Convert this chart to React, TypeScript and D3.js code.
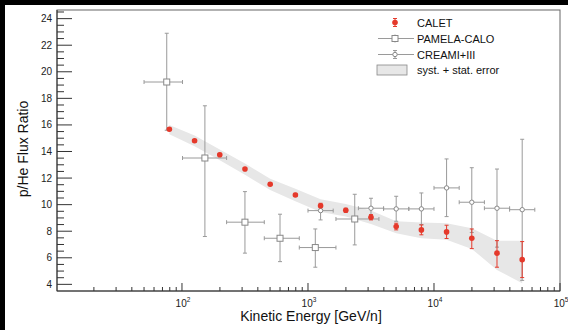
import React, { useEffect, useRef } from 'react';
import * as d3 from 'd3';

// CALET p/He ratio, bins in kinetic energy per nucleon
const caletE = [79.4, 125.9, 199.5, 316.2, 501.2, 794.3, 1258.9, 1995.3, 3162.3, 5011.9, 7943.3, 12589, 19953, 31623, 50119];
const caletRatio = [15.67, 14.81, 13.76, 12.68, 11.54, 10.73, 9.92, 9.58, 9.05, 8.35, 8.1, 7.95, 7.47, 6.35, 5.86];
const caletErrLo = [0.1, 0.1, 0.1, 0.1, 0.1, 0.12, 0.15, 0.15, 0.2, 0.25, 0.37, 0.5, 0.78, 1.06, 1.35];
const caletErrHi = [0.1, 0.1, 0.1, 0.1, 0.1, 0.12, 0.18, 0.15, 0.2, 0.25, 0.37, 0.5, 0.7, 0.94, 1.36];
const bandLo = [15.3, 14.4, 13.35, 12.25, 11.1, 10.25, 9.45, 9.1, 8.55, 7.85, 7.47, 7.35, 6.67, 5.09, 4.09];
const bandHi = [16.0, 15.2, 14.15, 13.1, 11.95, 11.2, 10.4, 10.05, 9.55, 8.75, 8.65, 8.6, 8.23, 7.29, 7.29];

// PAMELA-CALO
const pamelaE = [75.7, 152, 316, 600, 1143, 2350];
const pamelaELo = [50, 101, 226, 450, 853, 1667];
const pamelaEHi = [101, 226, 450, 853, 1667, 3656];
const pamelaRatio = [19.23, 13.51, 8.68, 7.47, 6.77, 8.92];
const pamelaLo = [15.6, 7.6, 6.35, 5.71, 5.29, 6.97];
const pamelaHi = [22.9, 17.44, 10.98, 9.28, 8.17, 10.78];

// CREAM I+III
const creamE = [1259, 3162, 5012, 7943, 12589, 19953, 31623, 50119];
const creamELo = [1000, 2512, 3981, 6310, 10000, 15849, 25119, 39811];
const creamEHi = [1585, 3981, 6310, 10000, 15849, 25119, 39811, 63096];
const creamRatio = [9.55, 9.73, 9.68, 9.68, 11.26, 10.18, 9.73, 9.62];
const creamLo = [8.85, 8.95, 8.75, 8.5, 9.1, 7.9, 6.8, 4.3];
const creamHi = [9.92, 10.48, 10.63, 10.88, 13.44, 12.78, 12.68, 14.92];

const yMajor = [4, 6, 8, 10, 12, 14, 16, 18, 20, 22, 24];
const xMajorExp = [2, 3, 4, 5];
const legendLabels = ['CALET', 'PAMELA-CALO', 'CREAMI+III', 'syst. + stat. error'];

const FONT = 'Liberation Sans, Arial, Helvetica, sans-serif';

const App = () => {
  const svgRef = useRef<SVGSVGElement>(null);

  useEffect(() => {
    const width = 568;
    const height = 330;
    const left = 57, right = 560, top = 10, bottom = 291;
    const red = '#e5392b';
    const grey = '#9a9a9a';

    const svg = d3.select(svgRef.current);
    svg.selectAll('*').remove();
    svg.attr('width', width).attr('height', height);

    // page background with dark strips at the edges of the original scan
    svg.append('rect').attr('width', width).attr('height', height).attr('fill', '#fff');
    svg.append('rect').attr('width', width).attr('height', 5).attr('fill', '#000');
    svg.append('rect').attr('width', 5).attr('height', height).attr('fill', '#000');

    const x = d3.scaleLog().domain([10.19, 1e5]).range([left, right]);
    const y = d3.scaleLinear().domain([3.5, 24.65]).range([bottom, top]);

    // error band
    const area = d3.area<number>()
      .x((_, i) => x(caletE[i]))
      .y0((_, i) => y(bandLo[i]))
      .y1((_, i) => y(bandHi[i]));
    svg.append('path').datum(caletE).attr('d', area).attr('fill', '#e7e7e7');

    const drawCross = (g, xs, y0s, y1s, x0s, x1s, ys, color) => {
      xs.forEach((e, i) => {
        const cx = x(e), cy = y(ys[i]);
        const ya = y(y1s[i]), yb = y(y0s[i]);
        g.append('line').attr('x1', cx).attr('x2', cx).attr('y1', ya).attr('y2', yb).attr('stroke', color);
        g.append('line').attr('x1', cx - 2).attr('x2', cx + 2).attr('y1', ya).attr('y2', ya).attr('stroke', color);
        g.append('line').attr('x1', cx - 2).attr('x2', cx + 2).attr('y1', yb).attr('y2', yb).attr('stroke', color);
        if (x0s) {
          const xa = x(x0s[i]), xb = x(x1s[i]);
          g.append('line').attr('x1', xa).attr('x2', xb).attr('y1', cy).attr('y2', cy).attr('stroke', color);
          g.append('line').attr('x1', xa).attr('x2', xa).attr('y1', cy - 2).attr('y2', cy + 2).attr('stroke', color);
          g.append('line').attr('x1', xb).attr('x2', xb).attr('y1', cy - 2).attr('y2', cy + 2).attr('stroke', color);
        }
      });
    };

    // PAMELA
    const gp = svg.append('g');
    drawCross(gp, pamelaE, pamelaLo, pamelaHi, pamelaELo, pamelaEHi, pamelaRatio, grey);
    gp.selectAll('rect').data(pamelaE).enter().append('rect')
      .attr('x', d => x(d) - 3).attr('y', (_, i) => y(pamelaRatio[i]) - 3)
      .attr('width', 6).attr('height', 6)
      .attr('fill', '#fff').attr('stroke', '#888');

    // CREAM
    const gc = svg.append('g');
    drawCross(gc, creamE, creamLo, creamHi, creamELo, creamEHi, creamRatio, grey);
    gc.selectAll('circle').data(creamE).enter().append('circle')
      .attr('cx', d => x(d)).attr('cy', (_, i) => y(creamRatio[i])).attr('r', 2.2)
      .attr('fill', '#fff').attr('stroke', '#888');

    // CALET
    const gr = svg.append('g');
    const caletLo = caletRatio.map((v, i) => v - caletErrLo[i]);
    const caletHi = caletRatio.map((v, i) => v + caletErrHi[i]);
    drawCross(gr, caletE, caletLo, caletHi, null, null, caletRatio, red);
    gr.selectAll('circle').data(caletE).enter().append('circle')
      .attr('cx', d => x(d)).attr('cy', (_, i) => y(caletRatio[i])).attr('r', 2.8)
      .attr('fill', red);

    // frame
    svg.append('rect').attr('x', left).attr('y', top).attr('width', right - left).attr('height', bottom - top)
      .attr('fill', 'none').attr('stroke', '#666');
    svg.append('line').attr('x1', left).attr('x2', left).attr('y1', top).attr('y2', bottom).attr('stroke', '#333');
    svg.append('line').attr('x1', left).attr('x2', right).attr('y1', bottom).attr('y2', bottom).attr('stroke', '#333');

    // y ticks
    const yMinor = d3.range(4, 24.6, 0.5).filter(v => v % 2 !== 0);
    yMinor.forEach(v => {
      svg.append('line').attr('x1', left).attr('x2', left + 7).attr('y1', y(v)).attr('y2', y(v)).attr('stroke', '#333');
    });
    yMajor.forEach(v => {
      svg.append('line').attr('x1', left).attr('x2', left + 15).attr('y1', y(v)).attr('y2', y(v)).attr('stroke', '#333');
      svg.append('text').attr('x', left - 5).attr('y', y(v) + 3.5).attr('text-anchor', 'end')
        .attr('font-family', FONT).attr('font-size', 10).attr('fill', '#222').text(v);
    });

    // x ticks
    const xMinor = [];
    [10, 100, 1000, 10000].forEach(d => { for (let k = 2; k <= 9; k++) xMinor.push(d * k); });
    xMinor.forEach(v => {
      svg.append('line').attr('x1', x(v)).attr('x2', x(v)).attr('y1', bottom).attr('y2', bottom - 4).attr('stroke', '#333');
    });
    xMajorExp.forEach(p => {
      const px = x(Math.pow(10, p));
      svg.append('line').attr('x1', px).attr('x2', px).attr('y1', bottom).attr('y2', bottom - 8).attr('stroke', '#333');
      const t = svg.append('text').attr('x', px + 1).attr('y', 307).attr('text-anchor', 'middle')
        .attr('font-family', FONT).attr('font-size', 10).attr('fill', '#222');
      t.append('tspan').text('10');
      t.append('tspan').attr('font-size', 6.5).attr('dy', -5).text(p);
    });

    // axis titles
    svg.append('text').attr('x', 311).attr('y', 321).attr('text-anchor', 'middle')
      .attr('font-family', FONT).attr('font-size', 14).attr('fill', '#111').text('Kinetic Energy [GeV/n]');
    svg.append('text').attr('transform', 'translate(28,149) rotate(-90)').attr('text-anchor', 'middle')
      .attr('font-family', FONT).attr('font-size', 14).attr('fill', '#111').text('p/He Flux Ratio');

    // legend
    const lg = svg.append('g');
    const ly = [22.5, 38.5, 54.5, 70];
    const lx = 395;
    lg.append('line').attr('x1', lx).attr('x2', lx).attr('y1', ly[0] - 4).attr('y2', ly[0] + 4).attr('stroke', red);
    [-4, 4].forEach(o => lg.append('line').attr('x1', lx - 2).attr('x2', lx + 2).attr('y1', ly[0] + o).attr('y2', ly[0] + o).attr('stroke', red));
    lg.append('circle').attr('cx', lx).attr('cy', ly[0]).attr('r', 2.8).attr('fill', red);

    lg.append('line').attr('x1', 378).attr('x2', 414).attr('y1', ly[1]).attr('y2', ly[1]).attr('stroke', grey);
    lg.append('line').attr('x1', lx).attr('x2', lx).attr('y1', ly[1] - 4).attr('y2', ly[1] + 4).attr('stroke', grey);
    lg.append('rect').attr('x', lx - 3).attr('y', ly[1] - 3).attr('width', 6).attr('height', 6).attr('fill', '#fff').attr('stroke', '#888');

    lg.append('line').attr('x1', 378).attr('x2', 414).attr('y1', ly[2]).attr('y2', ly[2]).attr('stroke', grey);
    lg.append('line').attr('x1', lx).attr('x2', lx).attr('y1', ly[2] - 4).attr('y2', ly[2] + 4).attr('stroke', grey);
    [-4, 4].forEach(o => lg.append('line').attr('x1', lx - 2).attr('x2', lx + 2).attr('y1', ly[2] + o).attr('y2', ly[2] + o).attr('stroke', grey));
    lg.append('circle').attr('cx', lx).attr('cy', ly[2]).attr('r', 2.2).attr('fill', '#fff').attr('stroke', '#888');

    lg.append('rect').attr('x', 377).attr('y', ly[3] - 5).attr('width', 30).attr('height', 10)
      .attr('fill', '#e7e7e7').attr('stroke', '#888').attr('stroke-width', 0.8);

    legendLabels.forEach((s, i) => {
      lg.append('text').attr('x', 417).attr('y', ly[i] + 4).attr('font-family', FONT).attr('font-size', 11)
        .attr('fill', '#111').text(s);
    });
  }, []);

  return (
    <svg ref={svgRef} style={{ position: 'absolute', left: 0, top: 0, display: 'block' }}></svg>
  );
};

export default App;
